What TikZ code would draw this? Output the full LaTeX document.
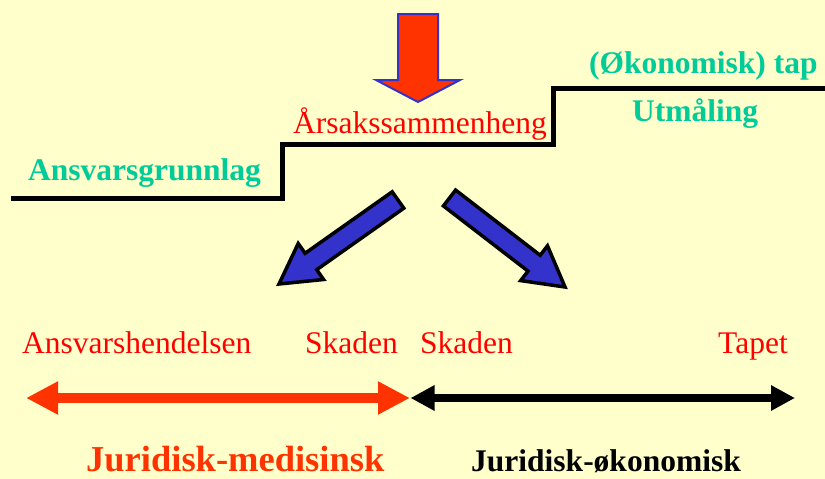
\documentclass[tikz,border=0pt]{standalone}
\usepackage{fontspec}
\setmainfont{Liberation Serif}
\usetikzlibrary{arrows.meta}
\definecolor{slidebg}{HTML}{FFFFCC}
\definecolor{steptext}{HTML}{00CC99}
\definecolor{causered}{HTML}{FF0000}
\definecolor{arrowred}{HTML}{FF3300}
\definecolor{arrowblue}{HTML}{3333CC}

\begin{document}
\begin{tikzpicture}[
  x=1pt,
  y=-1pt,
  line join=miter,
  stair/.style={draw=black,line width=5pt},
  stairshadow/.style={draw=black!40,line width=5pt},
  steplabel/.style={anchor=base west,inner sep=0pt,text=steptext,font=\fontsize{31.5}{36}\selectfont\bfseries},
  eventlabel/.style={anchor=base west,inner sep=0pt,text=causered,font=\fontsize{31.5}{36}\selectfont},
  domainlabel/.style={anchor=base west,inner sep=0pt,font=\fontsize{31.5}{36}\selectfont\bfseries},
  blockarrow/.style={fill=arrowblue,draw=black,line width=3.5pt},
  downarrow/.style={fill=arrowred,draw=arrowblue,line width=2pt},
  medspan/.style={draw=arrowred,line width=10.5pt,{Triangle[length=32pt,width=31pt]}-{Triangle[length=32pt,width=31pt]}},
  econspan/.style={draw=black,line width=8pt,{Triangle[length=24pt,width=24pt]}-{Triangle[length=24pt,width=24pt]}}
]
  % Slide background fixes the page size.
  \fill[slidebg] (0,0) rectangle (825,479);
  \useasboundingbox (0,0) rectangle (825,479);

  % Three-step staircase with a soft drop shadow.
  \coordinate (S0) at (11,198);
  \coordinate (S1) at (282,198);
  \coordinate (S2) at (282,144);
  \coordinate (S3) at (553,144);
  \coordinate (S4) at (553,88);
  \coordinate (S5) at (830,88);
  \draw[stairshadow,shift={(2,2)}] (S0) -- (S1) -- (S2) -- (S3) -- (S4) -- (S5);
  \draw[stair] (S0) -- (S1) -- (S2) -- (S3) -- (S4) -- (S5);

  % Step labels.
  \node[steplabel] (grunnlag) at (28,180) {Ansvarsgrunnlag};
  \node[eventlabel] (aarsak) at (293,133) {Årsakssammenheng};
  \node[steplabel] (tap) at (589,73) {(Økonomisk) tap};
  \node[steplabel] (utmaaling) at (632,121) {Utmåling};

  % Block arrow pointing down at the middle step.
  \path[downarrow] (398,14) -- (438,14) -- (438,80) -- (460,80)
    -- (418,102) -- (376,80) -- (398,80) -- cycle;

  % Two blue block arrows splitting to either side.
  \path[blockarrow] (392.2,191.8) -- (305.1,253.3) -- (298.2,243.5) -- (279,284)
    -- (323.6,279.5) -- (316.7,269.7) -- (403.8,208.2) -- cycle;
  \path[blockarrow] (455.6,190.1) -- (540.2,255.3) -- (547.5,245.8) -- (565,287)
    -- (520.7,280.6) -- (528.0,271.1) -- (443.4,205.9) -- cycle;

  % End point labels.
  \node[eventlabel] (hendelse) at (22,353) {Ansvarshendelsen};
  \node[eventlabel] (skadenA) at (305,353) {Skaden};
  \node[eventlabel] (skadenB) at (420,353) {Skaden};
  \node[eventlabel] (tapet) at (718,353) {Tapet};

  % Spans between the end points.
  \coordinate (medL) at (26,398);
  \coordinate (medR) at (410,398);
  \coordinate (econL) at (410.5,398);
  \coordinate (econR) at (795,398);
  \draw[medspan] (medL) -- (medR);
  \draw[econspan] (econL) -- (econR);

  % Domain names.
  \node[domainlabel,text=arrowred,font=\fontsize{36.5}{42}\selectfont\bfseries] (medisinsk) at (86,471) {Juridisk-medisinsk};
  \node[domainlabel,text=black] (okonomisk) at (471,471) {Juridisk-økonomisk};
\end{tikzpicture}
\end{document}
